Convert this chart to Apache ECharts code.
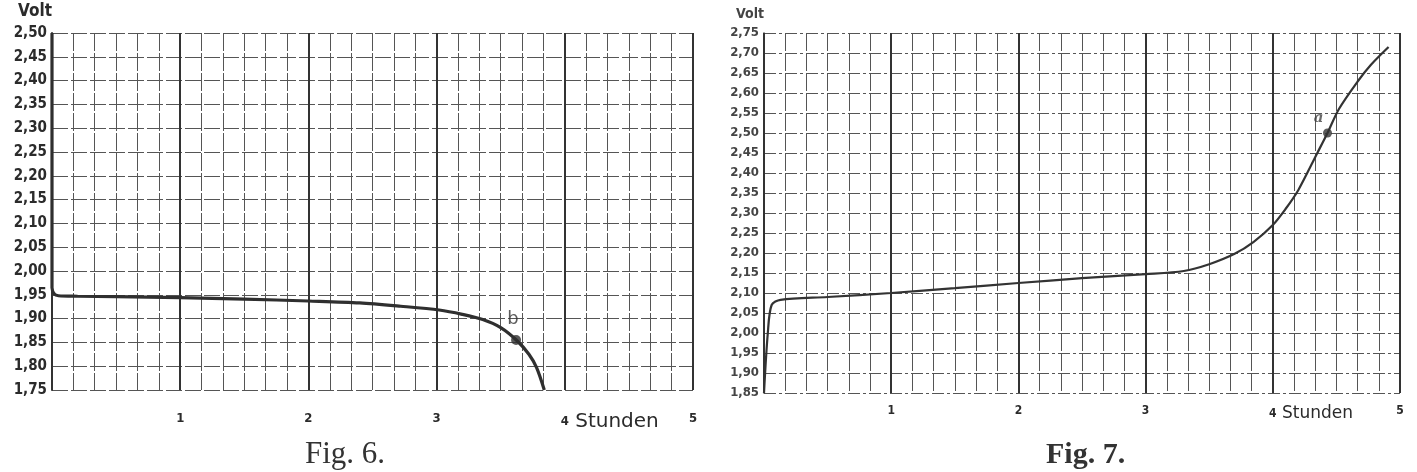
<!DOCTYPE html>
<html>
<head>
<meta charset="utf-8">
<script src="https://cdn.jsdelivr.net/npm/echarts@6/dist/echarts.min.js"></script>
<style>
html,body{margin:0;padding:0;background:#ffffff;}
#chart{width:1417px;height:472px;}
</style>
</head>
<body>
<div id="chart"></div>
<script>
// ---- Data ----
const xTicks = [0, 1, 2, 3, 4, 5];          // Stunden
const unitLabel = 'Stunden';
const yNameText = 'Volt';

// Fig. 6 – discharge curve
const fig6Hours = [0, 0, 0.02, 0.05, 0.2, 0.5, 1.0, 1.5, 2.0, 2.4, 2.72, 3.02, 3.2, 3.36, 3.5, 3.63, 3.72, 3.78, 3.84];
const fig6Volts = [2.50, 1.965, 1.951, 1.948, 1.947, 1.946, 1.944, 1.941, 1.937, 1.933, 1.926, 1.918, 1.909, 1.898, 1.881, 1.853, 1.825, 1.797, 1.75];
const fig6Point = [3.62, 1.855];
const fig6PointLabel = 'b';
const fig6YMin = 1.75, fig6YMax = 2.50;

// Fig. 7 – charge curve
const fig7Hours = [0, 0.03, 0.06, 0.13, 0.5, 1.0, 1.5, 2.0, 2.5, 3.0, 3.3, 3.5, 3.7, 3.85, 4.0, 4.1, 4.2, 4.35, 4.43, 4.52, 4.67, 4.77, 4.91];
const fig7Volts = [1.85, 2.0, 2.07, 2.083, 2.09, 2.10, 2.112, 2.125, 2.137, 2.147, 2.155, 2.172, 2.198, 2.228, 2.27, 2.31, 2.357, 2.45, 2.50, 2.56, 2.63, 2.67, 2.715];
const fig7Point = [4.43, 2.50];
const fig7PointLabel = 'a';
const fig7YMin = 1.85, fig7YMax = 2.75;

const captions = ['Fig. 6.', 'Fig. 7.'];

// ---- helpers ----
function measure(text, font) {
  const c = document.createElement('canvas').getContext('2d');
  c.font = font;
  return c.measureText(text).width;
}
const ink = '#2b2b2b';
const sansB = '"DejaVu Sans Condensed", "DejaVu Sans", sans-serif';

function xAxisFor(gi, numSize, stSize, margin) {
  const padW = measure(' ' + unitLabel, stSize + 'px "DejaVu Sans"');
  return {
    type: 'value', gridIndex: gi, min: xTicks[0], max: xTicks[xTicks.length - 1], interval: 1,
    axisLine: {show: false}, axisTick: {show: false},
    minorTick: {show: false, splitNumber: 6},
    splitLine: {show: true, lineStyle: {color: '#333', width: 2}},
    minorSplitLine: {show: true, lineStyle: {color: '#555', width: 1, type: [18, 2]}},
    axisLabel: {
      margin: margin,
      color: ink,
      formatter: function (v) {
        if (v === 0) return '';
        if (v === 4) return '{pad| }{n|4}{s| ' + unitLabel + '}';
        return '{n|' + v + '}';
      },
      rich: {
        pad: {width: padW, fontSize: numSize},
        n: {fontSize: numSize, fontWeight: 'bold', fontFamily: sansB, color: ink},
        s: {fontSize: stSize, fontFamily: '"DejaVu Sans", sans-serif', color: ink}
      }
    }
  };
}

function yAxisFor(gi, min, max, fontSize, nameSize, color, dash, nameGap, axisW) {
  return {
    type: 'value', gridIndex: gi, min: min, max: max, interval: 0.05,
    name: yNameText, nameLocation: 'end', nameGap: nameGap,
    nameTextStyle: {align: 'right', fontSize: nameSize, fontWeight: 'bold', fontFamily: sansB, color: color, padding: [0, 0, 0, 0]},
    axisLine: {show: true, lineStyle: {color: '#333', width: axisW}},
    axisTick: {show: false},
    splitLine: {show: true, lineStyle: {color: '#555', width: 1, type: dash}},
    axisLabel: {
      margin: 5, fontSize: fontSize, fontWeight: 'bold', fontFamily: sansB, color: color,
      formatter: function (v) { return v.toFixed(2).replace('.', ','); }
    }
  };
}

const chart = echarts.init(document.getElementById('chart'), null, {renderer: 'canvas'});
chart.setOption({
  backgroundColor: '#ffffff',
  animation: false,
  title: [
    {text: captions[0], left: 300, top: 434, textStyle: {fontFamily: '"Liberation Serif", serif', fontSize: 31, fontWeight: 'normal', color: '#333'}},
    {text: captions[1], left: 1041, top: 435, textStyle: {fontFamily: '"Liberation Serif", serif', fontSize: 30, fontWeight: 'bold', color: '#333'}}
  ],
  grid: [
    {left: 52, top: 33, width: 641, height: 357},
    {left: 764, top: 33, width: 636, height: 360}
  ],
  xAxis: [xAxisFor(0, 13, 20, 22), xAxisFor(1, 12, 17, 12)],
  yAxis: [
    yAxisFor(0, fig6YMin, fig6YMax, 15, 17, ink, [16, 3], 13, 2),
    yAxisFor(1, fig7YMin, fig7YMax, 13, 14, '#444', [12, 3, 3, 3], 12, 1.5)
  ],
  series: [
    {
      type: 'line', xAxisIndex: 0, yAxisIndex: 0, showSymbol: false, smooth: 0.3, clip: false,
      lineStyle: {color: '#2f2f2f', width: 3.2},
      data: fig6Hours.map((h, i) => [h, fig6Volts[i]])
    },
    {
      type: 'scatter', xAxisIndex: 0, yAxisIndex: 0, symbolSize: 10,
      itemStyle: {color: '#2f2f2f'},
      label: {show: true, position: 'top', offset: [-3, -2], formatter: fig6PointLabel,
        fontSize: 18, fontFamily: '"DejaVu Sans", sans-serif', color: '#333'},
      data: [fig6Point]
    },
    {
      type: 'line', xAxisIndex: 1, yAxisIndex: 1, showSymbol: false, smooth: 0.3,
      lineStyle: {color: '#333', width: 2.2},
      data: fig7Hours.map((h, i) => [h, fig7Volts[i]])
    },
    {
      type: 'scatter', xAxisIndex: 1, yAxisIndex: 1, symbolSize: 9,
      itemStyle: {color: '#333'},
      label: {show: true, position: 'top', offset: [-9, 2], formatter: fig7PointLabel,
        fontSize: 15, fontStyle: 'italic', fontWeight: 'bold', fontFamily: '"DejaVu Serif", serif', color: '#444'},
      data: [fig7Point]
    }
  ]
});
</script>
</body>
</html>
